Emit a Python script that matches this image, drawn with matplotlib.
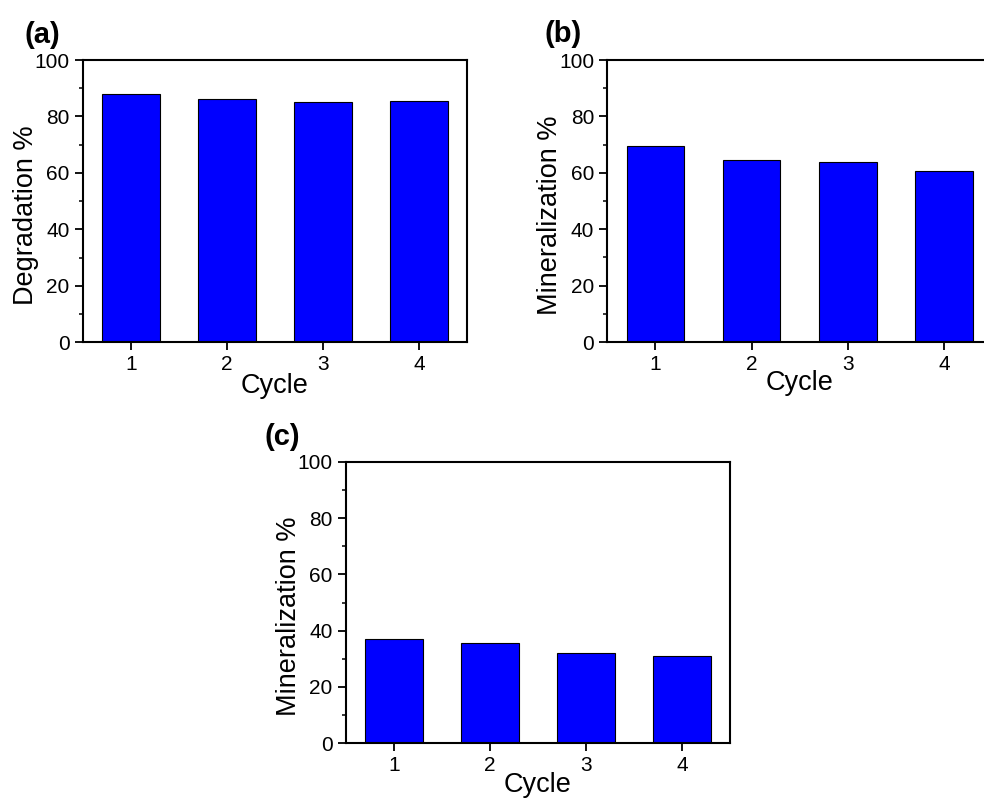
import matplotlib
matplotlib.use("Agg")
import matplotlib.pyplot as plt
from matplotlib.ticker import MultipleLocator

plt.rcParams['font.family'] = ['Liberation Sans', 'DejaVu Sans']

cycles = [1, 2, 3, 4]
degradation_a = [88.0, 86.2, 85.2, 85.6]
mineralization_b = [69.6, 64.4, 63.9, 60.7]
mineralization_c = [36.9, 35.7, 32.2, 31.1]

W, H = 984, 800
fig = plt.figure(figsize=(W / 100, H / 100), dpi=100)


def px_axes(left, right, top, bottom):
    # pixel box -> figure fraction
    return [left / W, 1 - bottom / H, (right - left) / W, (bottom - top) / H]


panels = [
    # (box, values, ylabel, tag, tag position, xlabel y)
    (px_axes(82.7, 467, 60, 342.3), degradation_a, 'Degradation %', '(a)', (25, 35), -0.155),
    (px_axes(607.3, 992, 60, 342), mineralization_b, 'Mineralization %', '(b)', (545, 34), -0.145),
    (px_axes(345.7, 730, 461.7, 743.3), mineralization_c, 'Mineralization %', '(c)', (265, 437), -0.148),
]

for box, vals, ylab, tag, (tx, ty), xly in panels:
    ax = fig.add_axes(box)
    ax.bar(cycles, vals, width=0.6, color='#0000FF', edgecolor='black', linewidth=0.8, zorder=2)
    ax.set_xlim(0.5, 4.5)
    ax.set_ylim(0, 100)
    ax.set_xticks(cycles)
    ax.yaxis.set_major_locator(MultipleLocator(20))
    ax.yaxis.set_minor_locator(MultipleLocator(10))
    ax.tick_params(axis='both', which='major', direction='out', length=5.5, width=1.3,
                   labelsize=15, pad=4, top=False, right=False)
    ax.tick_params(axis='y', which='minor', direction='out', length=3, width=1.1, right=False)
    for sp in ax.spines.values():
        sp.set_linewidth(1.5)
    ax.set_ylabel(ylab, fontsize=19.5, va='center')
    ax.yaxis.set_label_coords(-0.148, 0.45)
    ax.set_xlabel('Cycle', fontsize=19.5, va='center')
    ax.xaxis.set_label_coords(0.5, xly)
    fig.text(tx / W, 1 - ty / H, tag, fontsize=21, fontweight='bold', ha='left', va='center')

fig.savefig('out.png', dpi=100)
